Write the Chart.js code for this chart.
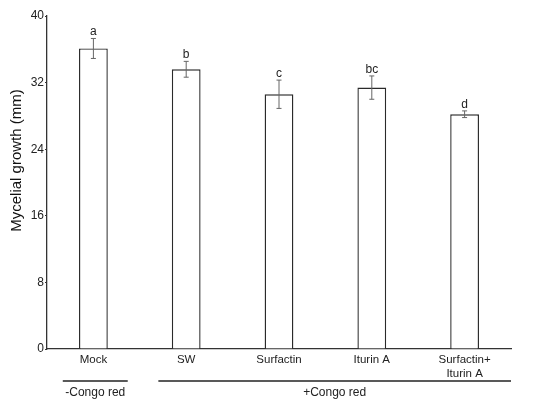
<!DOCTYPE html>
<html lang="en">
<head>
  <meta charset="UTF-8" />
  <title>Mycelial growth</title>
  <script src="https://cdn.jsdelivr.net/npm/chart.js"></script>
  <style>
    body { margin: 0; padding: 0; background: #fff; }
    .chart-container { width: 550px; height: 407px; }
  </style>
</head>
<body>
  <div class="chart-container">
    <canvas id="growthChart"></canvas>
  </div>

  <script>
    // data
    const categories = ['Mock', 'SW', 'Surfactin', 'Iturin A', ['Surfactin+', 'Iturin A']];
    const growth = [36.1, 33.6, 30.6, 31.4, 28.2];
    const errors = [1.2, 0.95, 1.7, 1.4, 0.4];
    const letters = ['a', 'b', 'c', 'bc', 'd'];
    const yTicks = [0, 8, 16, 24, 32, 40];
    const yTitle = 'Mycelial growth (mm)';
    // groups under the axis: [label, first index, last index]
    const groups = [['-Congo red', 0, 0], ['+Congo red', 1, 4]];

    const fontFamily = '"Liberation Sans", Arial, sans-serif';

    // error bars + significance letters
    const errorBarPlugin = {
      id: 'errorBars',
      afterDatasetsDraw(chart) {
        const ctx = chart.ctx;
        const x = chart.scales.x;
        const y = chart.scales.y;
        ctx.save();
        ctx.strokeStyle = '#666';
        ctx.lineWidth = 1;
        growth.forEach((v, i) => {
          const cx = x.getPixelForValue(i);
          const top = y.getPixelForValue(v + errors[i]);
          const bot = y.getPixelForValue(v - errors[i]);
          ctx.beginPath();
          ctx.moveTo(cx, top); ctx.lineTo(cx, bot);
          ctx.moveTo(cx - 2.5, top); ctx.lineTo(cx + 2.5, top);
          ctx.moveTo(cx - 2.5, bot); ctx.lineTo(cx + 2.5, bot);
          ctx.stroke();
          ctx.fillStyle = '#222';
          ctx.font = '12px ' + fontFamily;
          ctx.textAlign = 'center';
          ctx.textBaseline = 'alphabetic';
          ctx.fillText(letters[i], cx, top - 3);
        });
        ctx.restore();
      }
    };

    // group lines, group labels and the y title (sits a bit above centre in the original)
    const groupPlugin = {
      id: 'groups',
      afterDraw(chart) {
        const ctx = chart.ctx;
        const x = chart.scales.x;
        const y = chart.scales.y;
        const step = x.getPixelForValue(1) - x.getPixelForValue(0);
        ctx.save();
        ctx.strokeStyle = '#222';
        ctx.lineWidth = 1.5;
        ctx.fillStyle = '#222';
        ctx.font = '12px ' + fontFamily;
        ctx.textAlign = 'center';
        ctx.textBaseline = 'middle';
        groups.forEach(g => {
          let x0 = x.getPixelForValue(g[1]) - step * 0.33;
          let x1 = x.getPixelForValue(g[2]) + step * 0.37;
          if (g[2] === categories.length - 1) x1 = x.right;
          if (g[1] > 0) x0 = x.getPixelForValue(g[1]) - step * 0.30;
          ctx.beginPath();
          ctx.moveTo(x0, 381); ctx.lineTo(x1, 381);
          ctx.stroke();
          ctx.fillText(g[0], (x0 + x1) / 2, 393);
        });

        ctx.translate(17, y.top + (y.bottom - y.top) * 0.434);
        ctx.rotate(-Math.PI / 2);
        ctx.fillStyle = '#111';
        ctx.font = '15px ' + fontFamily;
        ctx.fillText(yTitle, 0, 0);
        ctx.restore();
      }
    };

    const config = {
      type: 'bar',
      data: {
        labels: categories,
        datasets: [{
          data: growth,
          backgroundColor: '#fff',
          borderColor: '#2a2a2a',
          borderWidth: 1.4,
          categoryPercentage: 1,
          barPercentage: 0.31
        }]
      },
      options: {
        responsive: true,
        maintainAspectRatio: false,
        animation: false,
        layout: { padding: { top: 16, right: 39, bottom: 0, left: 0 } },
        plugins: {
          legend: { display: false },
          tooltip: { enabled: false }
        },
        scales: {
          x: {
            grid: { display: false, drawTicks: false },
            border: { color: '#333', width: 1.3 },
            ticks: {
              color: '#222',
              font: { family: fontFamily, size: 11.5 },
              padding: 4,
              maxRotation: 0,
              autoSkip: false
            },
            afterFit(scale) { scale.height = 58; }
          },
          y: {
            min: 0,
            max: 40,
            afterBuildTicks(scale) { scale.ticks = yTicks.map(v => ({ value: v })); },
            grid: { drawOnChartArea: false, tickLength: 2, color: '#333' },
            border: { color: '#333', width: 1.3 },
            ticks: {
              color: '#222',
              font: { family: fontFamily, size: 12 },
              padding: 1
            },
            afterFit(scale) { scale.width = 47; }
          }
        }
      },
      plugins: [errorBarPlugin, groupPlugin]
    };

    new Chart(document.getElementById('growthChart').getContext('2d'), config);
  </script>
</body>
</html>
